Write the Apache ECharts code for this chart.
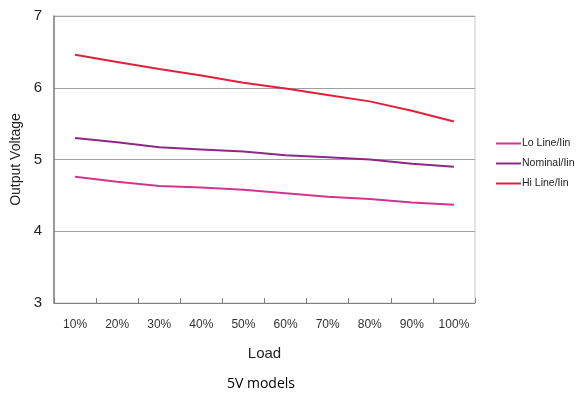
<!DOCTYPE html>
<html><head><meta charset="utf-8">
<script src="https://cdn.jsdelivr.net/npm/echarts@6/dist/echarts.min.js"></script>
<style>html,body{margin:0;padding:0;background:#fff}#c{width:579px;height:393px}</style>
</head><body><div id="c"></div>
<script>
const categories = ['10%','20%','30%','40%','50%','60%','70%','80%','90%','100%'];
const loLine = [4.76, 4.69, 4.63, 4.61, 4.58, 4.53, 4.48, 4.45, 4.40, 4.37];
const nominal = [5.30, 5.24, 5.17, 5.14, 5.11, 5.06, 5.03, 5.00, 4.94, 4.90];
const hiLine = [6.46, 6.36, 6.26, 6.17, 6.07, 5.99, 5.90, 5.81, 5.68, 5.53];
const seriesNames = ['Lo Line/Iin', 'Nominal/Iin', 'Hi Line/Iin'];
const colors = ['#d4358c', '#8a2a86', '#e0203a'];

const chart = echarts.init(document.getElementById('c'), null, {renderer:'canvas'});
const mk = (name, data, color) => ({
  name, type:'line', data, symbol:'none', smooth:false,
  lineStyle:{color, width:2}, itemStyle:{color}
});
chart.setOption({
  animation:false,
  backgroundColor:'#fff',
  title:{text:'5V models', left:256, top:372, textAlign:'center',
    textStyle:{fontFamily:'Open Sans', fontSize:14, fontWeight:'normal', color:'#000'}},
  legend:{orient:'vertical', left:491, top:133, itemWidth:25, itemHeight:2, itemGap:9, align:'left',
    icon:'rect',
    textStyle:{fontFamily:'Liberation Sans', fontSize:10.5, color:'#222', letterSpacing:-0.8, padding:[0,0,0,-4]},
    data: seriesNames},
  grid:{left:54, right:104, top:16, bottom:90, show:true, borderColor:'#c8c8c8', borderWidth:1,
    containLabel:false, outerBoundsMode:'none'},
  xAxis:{type:'category', data:categories, boundaryGap:true,
    name:'Load', nameLocation:'middle', nameGap:43,
    nameTextStyle:{fontFamily:'Liberation Sans', fontSize:15, color:'#222'},
    axisLine:{lineStyle:{color:'#808080', width:1}},
    axisTick:{show:true, length:5, inside:true, lineStyle:{color:'#808080'}},
    axisLabel:{fontFamily:'Liberation Sans', fontSize:12, color:'#333', margin:16}},
  yAxis:{type:'value', min:3, max:7, interval:1,
    name:'Output Voltage', nameLocation:'middle', nameGap:31, nameRotate:90,
    nameTextStyle:{fontFamily:'Liberation Sans', fontSize:14, color:'#222'},
    axisLine:{show:true, lineStyle:{color:'#808080', width:1.5}},
    axisTick:{show:false},
    axisLabel:{fontFamily:'Liberation Sans', fontSize:15, color:'#222', margin:12},
    splitLine:{show:true, lineStyle:{color:'#a0a0a0', width:1}}},
  series:[mk(seriesNames[0], loLine, colors[0]), mk(seriesNames[1], nominal, colors[1]), mk(seriesNames[2], hiLine, colors[2])]
});
</script></body></html>
